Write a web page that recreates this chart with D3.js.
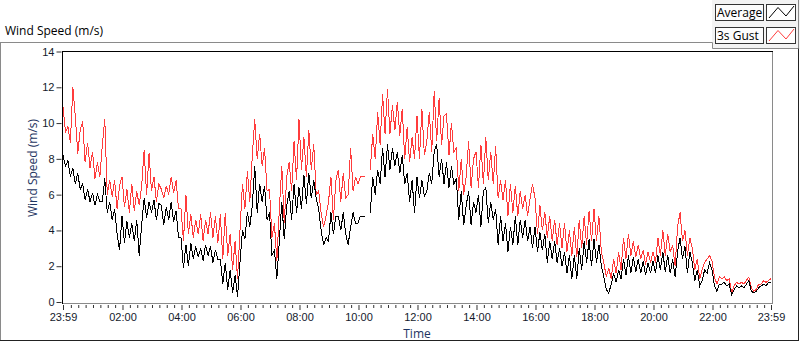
<!DOCTYPE html>
<html>
<head>
<meta charset="utf-8">
<script src="https://cdn.jsdelivr.net/npm/d3@7"></script>
<style>
  body { margin: 0; background: #fff; }
  svg { display: block; font-family: "Open Sans", "Noto Sans", sans-serif; }
  .tick text { fill: #141a2c; font-size: 11px; }
  .tick line { stroke: #333; }
</style>
</head>
<body>
<div id="chart"></div>
<script>
// samples every 5 minutes, starting at 23:59 of the previous day
var startMinute = -1,
    stepMinutes = 5;

var seriesNames = ["Average", "3s Gust"];
var seriesColors = ["#000000", "#ff3c3c"];

var yTicks = [0, 2, 4, 6, 8, 10, 12, 14];
var xTickMinutes = [-1, 120, 240, 360, 480, 600, 720, 840, 960, 1080, 1200, 1320, 1439];

// 3s gust (m/s)
var gust = [
  10.9, 9.5, 9.8, 8.9,
  12.0, 10.4, 8.3, 9.6,
  10.1, 7.8, 8.9, 7.5,
  8.4, 6.9, 7.8, 7.0,
  8.8, 10.2, 6.0, 6.8,
  5.9, 6.8, 5.2, 6.5,
  7.0, 5.3, 6.3, 5.0,
  6.6, 5.1, 6.2, 5.4,
  6.5, 8.5, 6.0, 8.3,
  6.2, 7.0, 5.6, 6.6,
  6.3, 5.8, 6.5, 6.0,
  7.0, 6.1, 6.8, 5.2,
  5.2, 3.4, 6.0, 3.8,
  4.9, 3.6, 4.6, 3.8,
  4.9, 3.4, 4.6, 3.8,
  5.0, 3.6, 4.8, 3.3,
  4.9, 2.4, 5.0, 2.6,
  3.8, 1.8, 3.4, 1.3,
  4.0, 6.6, 5.2, 7.3,
  5.6, 8.2, 10.2, 8.0,
  9.4, 7.6, 8.6, 6.2,
  6.3, 3.6, 4.4, 2.3,
  5.2, 7.6, 4.4, 7.0,
  7.8, 6.2, 9.0, 6.8,
  10.2, 7.4, 9.2, 7.0,
  9.6, 7.4, 8.8, 6.0,
  6.2, 5.0, 4.2, 4.8,
  5.6, 7.0, 4.6, 6.8,
  7.4, 5.6, 7.2, 5.8,
  6.0, 8.6, 6.2, 7.0,
  6.6, 7.0, 7.0, 7.0,
  null, 7.4, 9.4, 8.0,
  10.6, 8.8, 11.6, 9.4,
  11.9, 9.4, 11.0, 9.6,
  11.2, 9.3, 10.8, 8.0,
  9.8, 7.8, 9.2, 8.0,
  10.4, 8.0, 10.8, 8.2,
  9.0, 10.6, 8.4, 11.8,
  9.0, 11.4, 8.8, 10.4,
  10.5, 8.2, 10.0, 8.4,
  8.6, 6.2, 8.0, 6.0,
  7.0, 9.0, 6.4, 8.0,
  8.4, 6.4, 8.8, 6.6,
  9.2, 6.8, 8.4, 6.6,
  8.7, 5.8, 6.8, 5.7,
  6.8, 4.8, 6.6, 5.0,
  6.5, 4.8, 6.2, 5.2,
  6.0, 4.8, 5.8, 6.6,
  5.8, 3.8, 5.4, 4.0,
  5.0, 3.6, 4.8, 3.4,
  4.6, 3.2, 4.4, 3.0,
  4.4, 2.8, 4.0, 2.6,
  4.2, 2.5, 4.6, 3.0,
  4.8, 3.2, 5.1, 3.4,
  5.2, 3.4, 4.8, 2.8,
  2.2, 1.4, 1.9, 1.3,
  2.4, 1.6, 2.8, 1.8,
  3.6, 2.4, 3.8, 2.6,
  3.4, 2.5, 3.2, 2.4,
  2.9, 2.1, 2.8, 2.2,
  2.8, 2.2, 3.6, 2.6,
  4.0, 2.6, 3.8, 2.8,
  3.2, 2.0, 4.2, 5.0,
  3.4, 4.0, 2.6, 3.6,
  3.0, 1.8, 2.4, 1.3,
  1.8, 2.2, 2.4, 2.6,
  2.3, 1.4, 1.0, 1.4,
  1.3, 1.4, 1.2, 1.3,
  0.5, 0.9, 1.1, 1.0,
  1.1, 1.0, 1.2, 1.4,
  0.8, 0.6, 0.7, 1.0,
  1.0, 1.2, 1.1, 1.2, 1.3
];

// 1 minute average (m/s)
var average = [
  8.2, 7.6, 7.9, 7.0,
  7.5, 6.6, 7.2, 6.3,
  6.6, 5.7, 6.3, 5.6,
  6.1, 5.4, 6.0, 5.6,
  5.6, 6.9, 5.0, 5.6,
  4.6, 5.2, 3.8, 2.9,
  4.8, 3.3, 4.5, 3.6,
  4.4, 3.4, 4.6, 2.6,
  4.3, 5.8, 4.7, 5.6,
  5.0, 5.7, 4.6, 5.5,
  5.4, 4.3, 5.3, 4.6,
  5.6, 4.5, 5.1, 3.6,
  3.6, 1.9, 3.2, 2.0,
  3.3, 2.4, 3.1, 2.5,
  3.0, 2.3, 3.2, 2.6,
  3.1, 2.2, 2.9, 2.4,
  2.4, 1.0, 2.2, 0.7,
  1.8, 0.5, 1.5, 0.3,
  2.2, 4.0, 3.5, 5.0,
  4.2, 5.4, 7.6, 5.0,
  6.6, 5.6, 6.5, 4.6,
  5.0, 2.6, 2.9, 1.3,
  3.4, 5.6, 3.5, 5.4,
  6.2, 4.6, 6.6, 5.0,
  6.4, 5.2, 7.1, 5.5,
  7.2, 5.8, 6.8, 5.8,
  5.2, 4.0, 3.2, 3.6,
  3.4, 5.0, 3.8, 4.8,
  4.8, 4.0, 5.0, 3.8,
  3.2, 4.2, 5.0, 4.4,
  4.4, 4.8, 4.8, 4.8,
  null, 5.0, 7.0, 6.0,
  7.4, 6.6, 8.6, 7.0,
  8.8, 7.4, 8.6, 7.6,
  8.4, 7.2, 8.2, 6.6,
  7.2, 5.6, 6.8, 5.0,
  7.0, 5.8, 6.8, 5.9,
  6.2, 7.2, 6.6, 8.4,
  8.8, 7.0, 8.0, 6.6,
  7.8, 6.4, 7.6, 6.6,
  6.9, 4.6, 6.2, 4.3,
  5.4, 6.2, 4.3, 5.6,
  5.0, 6.0, 4.2, 6.2,
  6.4, 4.4, 5.6, 4.6,
  5.2, 3.2, 4.8, 3.4,
  4.4, 2.8, 4.2, 3.2,
  4.8, 3.2, 4.6, 3.6,
  4.6, 3.4, 4.2, 3.0,
  4.2, 2.8, 3.9, 2.9,
  3.8, 2.2, 3.4, 2.4,
  3.4, 2.2, 3.0, 2.0,
  2.8, 1.6, 2.6, 1.3,
  2.6, 1.3, 3.0, 1.8,
  3.4, 2.2, 3.5, 2.0,
  3.5, 2.2, 3.2, 2.0,
  1.4, 0.7, 0.5, 1.0,
  1.6, 1.1, 1.8, 1.3,
  2.4, 1.5, 2.6, 1.6,
  2.5, 1.7, 2.4, 1.6,
  2.3, 1.5, 2.2, 1.6,
  2.3, 1.6, 2.6, 1.8,
  2.8, 1.7, 2.6, 1.6,
  2.4, 1.4, 2.8, 3.6,
  2.4, 3.1, 1.6, 2.8,
  2.2, 1.2, 1.8, 0.9,
  1.2, 1.8, 1.6, 2.2,
  1.8, 0.9, 0.6, 1.0,
  1.0, 1.1, 0.9, 1.0,
  0.4, 0.7, 0.9, 0.8,
  0.9, 0.8, 1.0, 1.2,
  0.6, 0.5, 0.6, 0.8,
  0.9, 1.0, 0.9, 1.1, 1.1
];

var width = 800,
    height = 342,
    plot = { left: 62, top: 51, right: 772, bottom: 303 };

function clock(m) {
    m = (m + 1440) % 1440;
    return d3.format("02")(Math.floor(m / 60)) + ":" + d3.format("02")(m % 60);
}

var svg = d3.select("#chart")
    .append("svg")
    .attr("width", width)
    .attr("height", height);

var x = d3.scaleLinear()
    .domain([startMinute, startMinute + stepMinutes * (gust.length - 1)])
    .range([plot.left + 1, plot.right - 1]);

var y = d3.scaleLinear()
    .domain([0, 14])
    .range([plot.bottom - 1, plot.top + 0.5]);

// outer panel
svg.append("rect")
    .attr("x", 712).attr("y", 0)
    .attr("width", 88).attr("height", 49)
    .attr("fill", "#f3f3f3");

var frame = [
    [0, 42.5, 712.5, 42.5, "#8a8a8a"],
    [712.5, 42.5, 712.5, 48.5, "#8a8a8a"],
    [712.5, 48.5, 798.5, 48.5, "#8a8a8a"],
    [798.5, 0, 798.5, 48.5, "#8a8a8a"],
    [0.5, 42.5, 0.5, 341, "#8a8a8a"],
    [0, 340.5, 799, 340.5, "#222"],
    [798.5, 48.5, 798.5, 341, "#222"]
];
svg.selectAll(".frame")
    .data(frame).enter()
    .append("line")
    .attr("x1", function(d) { return d[0]; })
    .attr("y1", function(d) { return d[1]; })
    .attr("x2", function(d) { return d[2]; })
    .attr("y2", function(d) { return d[3]; })
    .style("stroke", function(d) { return d[4]; });

svg.append("text")
    .attr("x", 5).attr("y", 35)
    .style("font-size", "12px")
    .style("fill", "#000")
    .text("Wind Speed (m/s)");

// legend
var legend = svg.selectAll(".legend")
    .data(seriesNames).enter()
    .append("g")
    .attr("transform", function(d, i) { return `translate(0,${i * 23})`; });

legend.append("rect")
    .attr("x", 715.5).attr("y", 4.5)
    .attr("width", 48).attr("height", 16)
    .attr("fill", "#fcfcfc")
    .attr("stroke", "#333");

legend.append("text")
    .attr("x", 717).attr("y", 17)
    .style("font-size", "12px")
    .text(function(d) { return d; });

legend.append("rect")
    .attr("x", 766.5).attr("y", 4.5)
    .attr("width", 29).attr("height", 16)
    .attr("fill", "#fff")
    .attr("stroke", "#333");

legend.append("polyline")
    .attr("points", "769,18 778,7.5 786,16 794,6")
    .attr("fill", "none")
    .attr("stroke", function(d, i) { return seriesColors[i]; });

// plot area
svg.append("rect")
    .attr("x", plot.left).attr("y", plot.top)
    .attr("width", plot.right - plot.left).attr("height", plot.bottom - plot.top)
    .attr("fill", "#fff");

svg.append("clipPath").attr("id", "clip")
    .append("rect")
    .attr("x", plot.left + 1).attr("y", plot.top + 1)
    .attr("width", plot.right - plot.left - 1).attr("height", plot.bottom - plot.top - 1);

var line = d3.line()
    .defined(function(d) { return d != null; })
    .x(function(d, i) { return x(startMinute + i * stepMinutes); })
    .y(function(d) { return y(d); });

var lines = svg.append("g").attr("clip-path", "url(#clip)");

lines.append("path")
    .datum(gust)
    .attr("d", line)
    .style("fill", "none")
    .style("stroke", seriesColors[1])
    .style("stroke-width", 1)
    .style("shape-rendering", "crispEdges");

lines.append("path")
    .datum(average)
    .attr("d", line)
    .style("fill", "none")
    .style("stroke", seriesColors[0])
    .style("stroke-width", 1)
    .style("shape-rendering", "crispEdges");

svg.append("line")
    .attr("x1", plot.left).attr("y1", plot.top + 0.5)
    .attr("x2", plot.right + 1).attr("y2", plot.top + 0.5)
    .style("stroke", "#000");
svg.append("line")
    .attr("x1", plot.left + 0.5).attr("y1", plot.top)
    .attr("x2", plot.left + 0.5).attr("y2", plot.bottom + 1)
    .style("stroke", "#000");
svg.append("line")
    .attr("x1", plot.right + 0.5).attr("y1", plot.top + 1)
    .attr("x2", plot.right + 0.5).attr("y2", plot.bottom + 1)
    .style("stroke", "#8a8a8a");
svg.append("line")
    .attr("x1", plot.left + 1).attr("y1", plot.bottom + 0.5)
    .attr("x2", plot.right + 1).attr("y2", plot.bottom + 0.5)
    .style("stroke", "#8a8a8a");

// axes
svg.append("g")
    .attr("transform", `translate(${plot.left - 0.5},0)`)
    .call(d3.axisLeft(y).tickValues(yTicks).tickSize(5).tickPadding(2))
    .call(function(g) { g.select(".domain").remove(); });

var minor = d3.range(15, 1440, 15).filter(function(m) { return m % 120 != 0; });

svg.append("g")
    .attr("transform", `translate(0,${plot.bottom + 2})`)
    .call(d3.axisBottom(x).tickValues(minor).tickSize(3).tickFormat(""))
    .call(function(g) { g.select(".domain").remove(); });

svg.append("g")
    .attr("transform", `translate(0,${plot.bottom + 2})`)
    .call(d3.axisBottom(x).tickValues(xTickMinutes).tickSize(5).tickPadding(3).tickFormat(clock))
    .call(function(g) { g.select(".domain").remove(); });

svg.append("text")
    .attr("transform", `translate(37,${(plot.top + plot.bottom) / 2 - 9}) rotate(-90)`)
    .style("text-anchor", "middle")
    .style("font-size", "12px")
    .style("fill", "#1d3461")
    .text("Wind Speed (m/s)");

svg.append("text")
    .attr("x", (plot.left + plot.right) / 2)
    .attr("y", 338)
    .style("text-anchor", "middle")
    .style("font-size", "12px")
    .style("fill", "#1d3461")
    .text("Time");
</script>
</body>
</html>
